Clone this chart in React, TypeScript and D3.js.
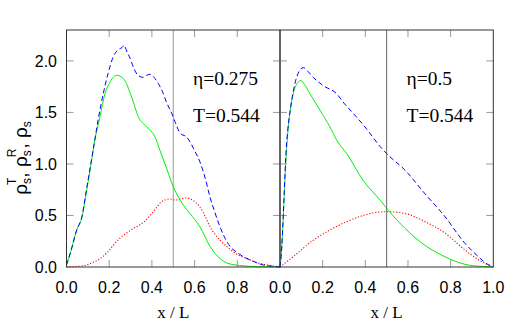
import React from "react";
import * as d3 from "d3";

// ---- data ----
const xTicks = [0, 0.2, 0.4, 0.6, 0.8, 1.0];
const yTicks = [0, 0.5, 1.0, 1.5, 2.0];
const panelLabels = ["η=0.275", "η=0.5"];
const tempLabels = ["T=0.544", "T=0.544"];

// left panel (eta = 0.275)
const leftGreenX = [0, 0.02, 0.048, 0.071, 0.095, 0.115, 0.13, 0.157, 0.18, 0.2, 0.235, 0.266, 0.305, 0.336, 0.376, 0.415, 0.438, 0.47, 0.5, 0.532, 0.578, 0.625, 0.672, 0.72, 0.75, 0.81, 0.9, 1.0];
const leftGreenY = [0.02, 0.15, 0.36, 0.47, 0.75, 1.0, 1.2, 1.46, 1.68, 1.78, 1.86, 1.83, 1.65, 1.46, 1.36, 1.26, 1.13, 0.95, 0.78, 0.65, 0.52, 0.39, 0.2, 0.08, 0.04, 0.015, 0.003, 0];
const leftRedX = [0, 0.05, 0.095, 0.13, 0.157, 0.19, 0.219, 0.25, 0.282, 0.31, 0.344, 0.37, 0.391, 0.415, 0.438, 0.46, 0.485, 0.51, 0.535, 0.563, 0.59, 0.625, 0.65, 0.672, 0.695, 0.719, 0.75, 0.78, 0.81, 0.844, 0.88, 0.94, 1.0];
const leftRedY = [0, 0.005, 0.02, 0.05, 0.08, 0.14, 0.21, 0.28, 0.33, 0.37, 0.41, 0.45, 0.5, 0.56, 0.62, 0.65, 0.66, 0.65, 0.66, 0.67, 0.65, 0.58, 0.49, 0.39, 0.32, 0.26, 0.2, 0.15, 0.11, 0.084, 0.05, 0.02, 0];
const leftBlueX = [0, 0.02, 0.048, 0.071, 0.095, 0.126, 0.15, 0.172, 0.195, 0.219, 0.243, 0.26, 0.269, 0.285, 0.297, 0.315, 0.335, 0.36, 0.375, 0.391, 0.41, 0.43, 0.45, 0.47, 0.493, 0.51, 0.532, 0.563, 0.6, 0.625, 0.65, 0.672, 0.695, 0.719, 0.74, 0.766, 0.8, 0.828, 0.87, 0.92, 0.96, 1.0];
const leftBlueY = [0.02, 0.15, 0.36, 0.48, 0.77, 1.15, 1.45, 1.68, 1.88, 2.04, 2.11, 2.13, 2.15, 2.08, 2.03, 1.93, 1.86, 1.84, 1.86, 1.87, 1.84, 1.78, 1.7, 1.59, 1.49, 1.4, 1.3, 1.26, 1.13, 1.02, 0.86, 0.68, 0.53, 0.39, 0.29, 0.2, 0.14, 0.1, 0.06, 0.02, 0.008, 0];

// right panel (eta = 0.5)
const rightGreenX = [0, 0.005, 0.031, 0.039, 0.062, 0.08, 0.097, 0.115, 0.141, 0.188, 0.234, 0.266, 0.313, 0.39, 0.469, 0.508, 0.586, 0.68, 0.773, 0.867, 0.95, 1.0];
const rightGreenY = [0, 0.1, 1.15, 1.36, 1.68, 1.78, 1.81, 1.77, 1.68, 1.52, 1.36, 1.23, 1.1, 0.84, 0.65, 0.55, 0.375, 0.21, 0.1, 0.026, 0.005, 0];
const rightRedX = [0, 0.062, 0.156, 0.234, 0.313, 0.39, 0.45, 0.5, 0.586, 0.68, 0.773, 0.867, 0.93, 1.0];
const rightRedY = [0, 0.1, 0.26, 0.36, 0.44, 0.5, 0.53, 0.536, 0.52, 0.44, 0.33, 0.165, 0.07, 0];
const rightBlueX = [0, 0.005, 0.031, 0.05, 0.07, 0.09, 0.109, 0.13, 0.156, 0.203, 0.266, 0.3, 0.344, 0.406, 0.469, 0.5, 0.586, 0.68, 0.773, 0.867, 0.93, 0.97, 1.0];
const rightBlueY = [0, 0.1, 1.2, 1.55, 1.78, 1.9, 1.935, 1.9, 1.84, 1.76, 1.68, 1.59, 1.49, 1.34, 1.17, 1.1, 0.94, 0.71, 0.49, 0.23, 0.1, 0.03, 0];

const W = 525;
const H = 334;
const top = 30;
const bottom = 267;
const panels = [
  { x0: 66.5, x1: 280, vColor: "#9a9a9a", series: [[leftRedX, leftRedY], [leftGreenX, leftGreenY], [leftBlueX, leftBlueY]], tickLabels: xTicks.slice(0, 5) },
  { x0: 280, x1: 493.3, vColor: "#666", series: [[rightRedX, rightRedY], [rightGreenX, rightGreenY], [rightBlueX, rightBlueY]], tickLabels: xTicks },
];
const styles = [
  { stroke: "#ff0000", dash: "1.2,1.8", width: 1.1 },
  { stroke: "#00f000", dash: null, width: 1 },
  { stroke: "#0000ff", dash: "5,3", width: 1 },
];

export default function App() {
  const y = d3.scaleLinear().domain([0, 2.3]).range([bottom, top]);
  const sans = "'Liberation Sans', Arial, sans-serif";
  const serif = "'Liberation Serif', 'Times New Roman', serif";
  return (
    <svg width={W} height={H} style={{ position: "absolute", left: 0, top: 0, background: "#fff" }}>
      {panels.map((p, pi) => {
        const x = d3.scaleLinear().domain([0, 1]).range([p.x0, p.x1]);
        const line = (xs: number[], ys: number[]) =>
          d3.line<number>().x((_, i) => x(xs[i])).y((_, i) => y(ys[i])).curve(d3.curveMonotoneX)(xs) || "";
        return (
          <g key={pi}>
            {yTicks.slice(1).map((t) => (
              <g key={"y" + t}>
                <line x1={p.x0} x2={p.x0 + 7} y1={y(t)} y2={y(t)} stroke="#999" />
                <line x1={p.x1} x2={p.x1 - 7} y1={y(t)} y2={y(t)} stroke="#999" />
              </g>
            ))}
            {xTicks.slice(1, 5).map((t) => (
              <g key={"x" + t}>
                <line x1={x(t)} x2={x(t)} y1={bottom} y2={bottom - 7} stroke="#999" />
                <line x1={x(t)} x2={x(t)} y1={top} y2={top + 7} stroke="#999" />
              </g>
            ))}
            <line x1={x(0.5)} x2={x(0.5)} y1={top} y2={bottom} stroke={p.vColor} strokeWidth={1} />
            {p.series.map(([xs, ys], si) => (
              <path key={si} d={line(xs, ys)} fill="none" stroke={styles[si].stroke}
                strokeWidth={styles[si].width} strokeDasharray={styles[si].dash || undefined} />
            ))}
            <rect x={p.x0} y={top} width={p.x1 - p.x0} height={bottom - top} fill="none" stroke="#333" strokeWidth={1} />
            {p.tickLabels.map((t) => (
              <text key={"xl" + t} x={x(t)} y={293} textAnchor="middle" fontFamily={sans} fontSize={16} fill="#000">
                {t.toFixed(1)}
              </text>
            ))}
            <text x={x(0.5)} y={318} textAnchor="middle" fontFamily={serif} fontSize={17}>x / L</text>
            <text x={p.x0 + 126.5} y={85} fontFamily={serif} fontSize={19.5}>{panelLabels[pi]}</text>
            <text x={p.x0 + 126.5} y={121.5} fontFamily={serif} fontSize={19.5}>{tempLabels[pi]}</text>
          </g>
        );
      })}
      {yTicks.map((t) => (
        <text key={"yl" + t} x={57} y={y(t) + 6} textAnchor="end" fontFamily={sans} fontSize={16}>
          {t.toFixed(1)}
        </text>
      ))}
      <text transform="translate(27,158) rotate(-90)" textAnchor="middle" fontFamily={sans} fontSize={19}>
        ρ<tspan fontSize={12} dy={4}>s</tspan>
        <tspan fontSize={12} dx={-7} dy={-15}>T</tspan>
        <tspan dy={11}>, ρ</tspan>
        <tspan fontSize={12} dy={4}>s</tspan>
        <tspan fontSize={12} dx={-7} dy={-15}>R</tspan>
        <tspan dy={11}>, ρ</tspan>
        <tspan fontSize={12} dy={4}>s</tspan>
      </text>
    </svg>
  );
}
